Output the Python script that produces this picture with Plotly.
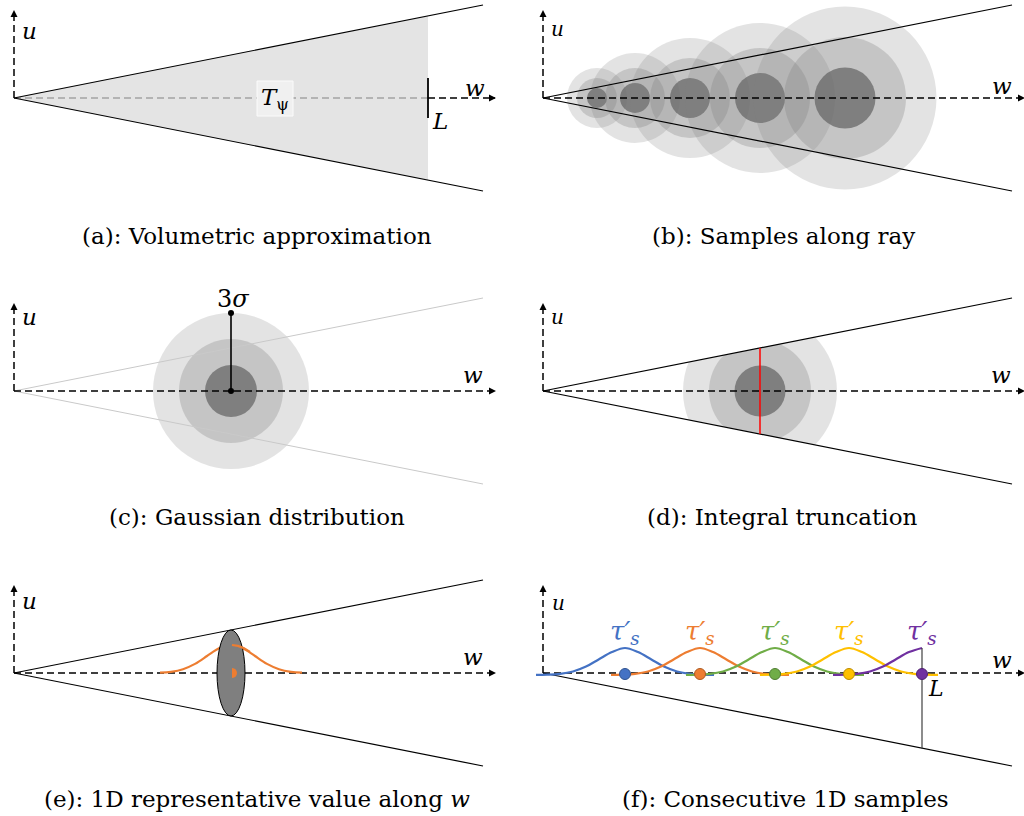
import plotly.graph_objects as go

W, H = 1024, 816

# ---------------- layout data (pixel space of the figure) ----------------
origin_x = [14, 543, 14, 543, 14, 543]
origin_y = [98, 98, 391, 391, 673, 673]
cone_length = 469
cone_spread = 93
w_axis_length = 484
u_axis_length = 90

captions = ["(a): Volumetric approximation", "(b): Samples along ray",
            "(c): Gaussian distribution", "(d): Integral truncation",
            "(e): 1D representative value along <i>w</i>", "(f): Consecutive 1D samples"]
caption_x = [257, 783, 257, 782, 257, 785]
caption_y = [236, 236, 517, 517, 799, 799]

u_label_x = [29, 557, 29, 557, 29, 558]
u_label_y = [31, 29, 317, 317, 601, 603]
w_label_x = [475, 1002, 473, 1001, 473, 1002]
w_label_y = [88, 86, 375, 375, 657, 660]

# (a) volumetric approximation
trunc_x_a = 428
tick_half_a = 20

# (b) samples along ray
b_centers = [597, 635, 690, 760, 845]
b_r_inner = [10, 15, 20, 25, 30.5]
b_r_mid = [20, 30, 40, 50, 61]
b_r_outer = [30, 45, 60, 75, 91.5]

# (c) gaussian distribution
c_center = (231, 391)
c_radii = [78, 52, 26]

# (d) integral truncation
d_center = (760, 391)
d_radii = [77, 51, 25.5]

# (e) 1D representative value
e_ellipse = (231, 673, 14, 43)   # cx, cy, rx, ry
e_offsets = [-71, -60, -48, -36, -24, -18, -12, -6, 0, 6, 12, 18, 24, 36, 48, 60, 71]
e_heights = [0.35, 1.2, 3.8, 9.1, 17.0, 21.1, 24.7, 27.1, 28, 27.1, 24.7, 21.1, 17.0, 9.1, 3.8, 1.2, 0.35]

# (f) consecutive 1D samples
f_centers = [625, 700, 775, 849, 922]
f_colors = ["#4472c4", "#ed7d31", "#70ad47", "#ffc000", "#7030a0"]
f_edges = ["#2f528f", "#ae5a21", "#507e32", "#bc8c00", "#4e2270"]
f_offsets = [-89, -78, -65, -52, -39, -26, -13, 0, 13, 26, 39, 52, 65, 78, 89]
f_heights = [0.1, 0.3, 1.1, 3.5, 8.4, 15.8, 22.9, 27, 22.9, 15.8, 8.4, 3.5, 1.1, 0.3, 0.1]
f_baseline = 675
f_dot_y = 674
f_label_y = 632

OUTER = "rgba(128,128,128,0.22)"
MID = "rgba(128,128,128,0.30)"
INNER = "rgba(100,100,100,0.72)"
ring_colors = [OUTER, MID, INNER]

fig = go.Figure()
shapes = []
annotations = []


def line(xs, ys, color="black", width=1.2, dash=None, shape="linear"):
    fig.add_trace(go.Scatter(x=xs, y=ys, mode="lines", hoverinfo="skip",
                             line=dict(color=color, width=width, dash=dash, shape=shape),
                             showlegend=False))


arrow_x, arrow_y, arrow_sym = [], [], []


def arrowhead(x, y, sym):
    arrow_x.append(x)
    arrow_y.append(y)
    arrow_sym.append(sym)


def text(x, y, s, size, color="black", family="DejaVu Serif"):
    annotations.append(dict(x=x, y=y, xref="x", yref="y", text=s, showarrow=False,
                            xanchor="center", yanchor="middle",
                            font=dict(size=size, color=color, family=family)))


def circle(cx, cy, r, fill, layer="below"):
    shapes.append(dict(type="circle", xref="x", yref="y", x0=cx - r, x1=cx + r,
                       y0=cy - r, y1=cy + r, fillcolor=fill, line=dict(width=0),
                       layer=layer))


DASH = "7px,4px"

# ---------------- (a) ----------------
ox, oy = origin_x[0], origin_y[0]
yu = oy - cone_spread * (trunc_x_a - ox) / cone_length
yl = oy + cone_spread * (trunc_x_a - ox) / cone_length
shapes.append(dict(type="path", xref="x", yref="y",
                   path=f"M {ox} {oy} L {trunc_x_a} {yu} L {trunc_x_a} {yl} Z",
                   fillcolor="#e4e4e4", line=dict(width=0), layer="below"))
line([ox, trunc_x_a], [oy, oy], color="#a3a3a3", width=1.5, dash=DASH)
line([trunc_x_a, ox + w_axis_length - 3], [oy, oy], width=1.5, dash=DASH)
line([trunc_x_a, trunc_x_a], [oy - tick_half_a, oy + tick_half_a], width=1.8)
shapes.append(dict(type="rect", xref="x", yref="y", x0=257, x1=293, y0=81, y1=116,
                   fillcolor="#f0f0f0", line=dict(color="#fbfbfb", width=1), layer="above"))
text(275, 99, "<i>T</i><sub>ψ</sub>", 23)
text(440, 121, "<i>L</i>", 23)

# ---------------- (b) ----------------
for cx, r1, r2, r3 in zip(b_centers, b_r_inner, b_r_mid, b_r_outer):
    for r, col in zip([r3, r2, r1], ring_colors):
        circle(cx, origin_y[1], r, col)

# ---------------- (c) ----------------
for r, col in zip(c_radii, ring_colors):
    circle(c_center[0], c_center[1], r, col)

# ---------------- (d) ----------------
for r, col in zip(d_radii, ring_colors):
    circle(d_center[0], d_center[1], r, col)
ox, oy = origin_x[3], origin_y[3]
x0c, x1c = d_center[0] - d_radii[0] - 5, d_center[0] + d_radii[0] + 5


def cone_y(x, o_x, o_y, sign):
    return o_y + sign * cone_spread * (x - o_x) / cone_length


shapes.append(dict(type="path", xref="x", yref="y",
                   path=(f"M {x0c} {cone_y(x0c, ox, oy, -1)} L {x1c} {cone_y(x1c, ox, oy, -1)} "
                         f"L {x1c} {d_center[1] - d_radii[0] - 8} L {x0c} {d_center[1] - d_radii[0] - 8} Z"),
                   fillcolor="white", line=dict(width=0), layer="below"))
shapes.append(dict(type="path", xref="x", yref="y",
                   path=(f"M {x0c} {cone_y(x0c, ox, oy, 1)} L {x1c} {cone_y(x1c, ox, oy, 1)} "
                         f"L {x1c} {d_center[1] + d_radii[0] + 8} L {x0c} {d_center[1] + d_radii[0] + 8} Z"),
                   fillcolor="white", line=dict(width=0), layer="below"))

# ---------------- cones and axes for all panels ----------------
for i in range(6):
    ox, oy = origin_x[i], origin_y[i]
    cone_col = "#c9c9c9" if i == 2 else "black"
    cone_w = 1.0 if i == 2 else 1.2
    if i != 5:
        line([ox, ox + cone_length], [oy, oy - cone_spread], color=cone_col, width=cone_w)
    line([ox, ox + cone_length], [oy, oy + cone_spread], color=cone_col, width=cone_w)
    if i != 0:
        line([ox, ox + w_axis_length - 3], [oy, oy], width=1.5, dash=DASH)
    arrowhead(ox + w_axis_length - 2, oy, "arrow-right")
    line([ox, ox], [oy, oy - u_axis_length + 3], width=1.5, dash=DASH)
    arrowhead(ox, oy - u_axis_length + 2, "arrow-up")
    text(u_label_x[i], u_label_y[i], "<i>u</i>", 23 if i % 2 == 0 else 20)
    text(w_label_x[i], w_label_y[i], "<i>w</i>", 23)
    text(caption_x[i], caption_y[i], captions[i], 23)

fig.add_trace(go.Scatter(x=arrow_x, y=arrow_y, mode="markers", hoverinfo="skip",
                         marker=dict(symbol=arrow_sym, size=7, color="black",
                                     line=dict(width=0)),
                         showlegend=False))

# (c) 3 sigma marker
cx, cy = c_center
fig.add_trace(go.Scatter(x=[cx, cx], y=[cy, cy - c_radii[0]], mode="lines+markers",
                         line=dict(color="black", width=1.6), marker=dict(size=6, color="black"),
                         hoverinfo="skip", showlegend=False))
text(cx + 2, 299, "3<i>σ</i>", 24)

# (d) red truncation line
ox, oy = origin_x[3], origin_y[3]
line([d_center[0], d_center[0]], [cone_y(d_center[0], ox, oy, -1), cone_y(d_center[0], ox, oy, 1)],
     color="#ff0000", width=1.5)

# ---------------- (e) ----------------
ecx, ecy, erx, ery = e_ellipse
line([ecx + o for o in e_offsets], [ecy - h for h in e_heights], color="#ed7d31", width=2.2,
     shape="spline")
shapes.append(dict(type="circle", xref="x", yref="y", x0=ecx - erx, x1=ecx + erx,
                   y0=ecy - ery, y1=ecy + ery, fillcolor="#7f7f7f",
                   line=dict(color="black", width=1), layer="above"))
front = [(ecx + 1 + o, ecy - h) for o, h in zip(e_offsets, e_heights) if 0 <= o <= 18]
shapes.append(dict(type="path", xref="x", yref="y",
                   path="M " + " L ".join(f"{x} {y}" for x, y in front),
                   line=dict(color="#ed7d31", width=2.2), layer="above"))
hr = 5
hx = ecx + 1
shapes.append(dict(type="path", xref="x", yref="y",
                   path=(f"M {hx} {ecy - hr} C {hx + hr * 1.33} {ecy - hr} {hx + hr * 1.33} {ecy + hr} "
                         f"{hx} {ecy + hr} Z"),
                   fillcolor="#ed7d31", line=dict(width=0), layer="above"))

# ---------------- (f) ----------------
for k, (c, col) in enumerate(zip(f_centers, f_colors)):
    pts = [(c + o, f_baseline - h) for o, h in zip(f_offsets, f_heights)
           if k < len(f_centers) - 1 or o <= 0]
    line([p[0] for p in pts], [p[1] for p in pts], color=col, width=2.2, shape="spline")
    text(c, f_label_y, "<i>τ′<sub>s</sub></i>", 26, color=col)
ox, oy = origin_x[5], origin_y[5]
Lx = f_centers[-1]
line([Lx, Lx], [f_baseline - max(f_heights), cone_y(Lx, ox, oy, 1)], color="#404040", width=1.2)
fig.add_trace(go.Scatter(x=f_centers, y=[f_dot_y] * len(f_centers), mode="markers",
                         marker=dict(size=11, color=f_colors, line=dict(color=f_edges, width=1)),
                         hoverinfo="skip", showlegend=False))
text(936, 688, "<i>L</i>", 22)

fig.update_layout(
    width=W, height=H, margin=dict(l=0, r=0, t=0, b=0),
    paper_bgcolor="white", plot_bgcolor="white",
    xaxis=dict(range=[0, W], visible=False, fixedrange=True),
    yaxis=dict(range=[H, 0], visible=False, fixedrange=True),
    shapes=shapes, annotations=annotations, showlegend=False,
)
fig.write_html("out.html")
